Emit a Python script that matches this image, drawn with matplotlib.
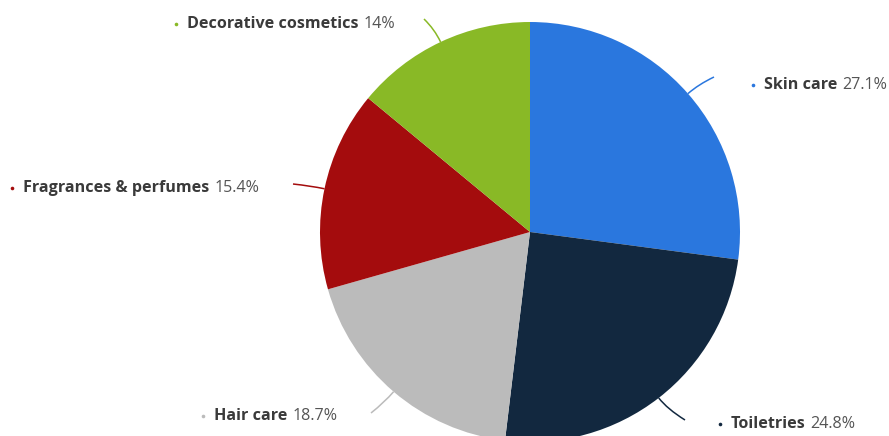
import numpy as np
import matplotlib.pyplot as plt
from matplotlib.path import Path
from matplotlib.patches import PathPatch

categories = ["Skin care", "Toiletries", "Hair care", "Fragrances & perfumes", "Decorative cosmetics"]
shares = [27.1, 24.8, 18.7, 15.4, 14.0]
value_labels = ["27.1%", "24.8%", "18.7%", "15.4%", "14%"]
colors = ["#2a77de", "#12283f", "#bbbbbb", "#a40c0d", "#89b926"]

W, H = 889, 436
cx, cy, r = 530, 232, 210  # pie centre and radius, pixels from the top-left

# bullet position of each label and the end of its connector line
bullet_pos = [(753, 85), (720, 424), (203, 416), (12, 188), (176, 24)]
line_end = [(714, 77), (685, 420), (371, 413), (293, 184), (424, 19)]

plt.rcParams["font.family"] = ["Open Sans", "DejaVu Sans"]

fig = plt.figure(figsize=(W / 100, H / 100), dpi=100)
ax = fig.add_axes([0, 0, 1, 1])

ax.pie(shares, colors=colors, startangle=90, counterclock=False,
       center=(cx, H - cy), radius=r,
       wedgeprops=dict(linewidth=0))

ax.set_xlim(0, W)
ax.set_ylim(0, H)
ax.set_aspect("equal")
ax.axis("off")

cum = np.cumsum([0] + shares)
for i, name in enumerate(categories):
    mid = (cum[i] + cum[i + 1]) / 2 / 100 * 2 * np.pi
    dx, dy = np.sin(mid), np.cos(mid)
    p0 = (cx + r * dx, H - cy + r * dy)
    p1 = (cx + (r + 14) * dx, H - cy + (r + 14) * dy)
    p2 = (line_end[i][0], H - line_end[i][1])
    path = Path([p0, p1, p2], [Path.MOVETO, Path.CURVE3, Path.CURVE3])
    ax.add_patch(PathPatch(path, fill=False, edgecolor=colors[i], lw=1.1))

    bx, by = bullet_pos[i]
    ax.plot(bx, H - by, "o", ms=2.6, color=colors[i], mec="none")
    name_txt = ax.text(bx + 11, H - by, name, fontsize=11.6, fontweight="bold",
                       color="#3a3a3a", va="center", ha="left")
    ax.annotate(value_labels[i], xy=(1, 0), xycoords=name_txt,
                xytext=(3.5, 0), textcoords="offset points",
                fontsize=11.6, color="#555555", va="bottom", ha="left")

fig.savefig("out.png", dpi=100)
